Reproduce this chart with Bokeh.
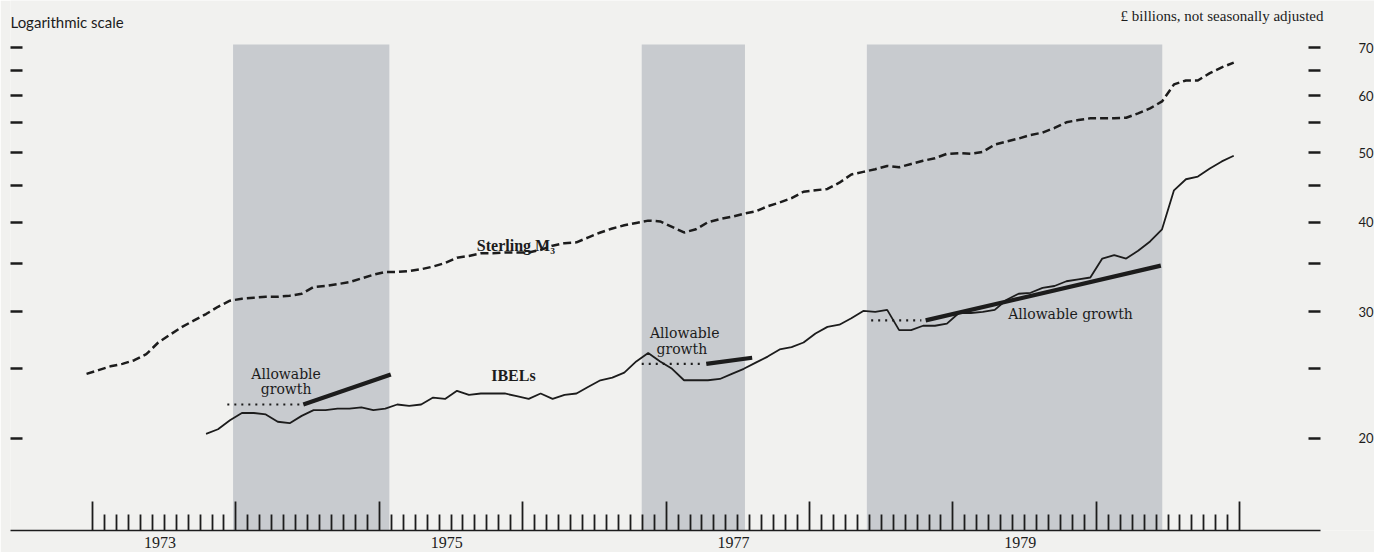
from bokeh.plotting import figure
from bokeh.models import (Range1d, FixedTicker, LogAxis, LinearAxis,
                          PrintfTickFormatter, CustomJSTickFormatter, ColumnDataSource)
from bokeh.core.properties import value
from bokeh.embed import file_html
from bokeh.resources import INLINE

# ---------------- data ----------------
# Sterling M3, £ billions, monthly (mid-month) from Dec 1972 to Dec 1980
m3_first_month = (1972, 12)
m3_values = [
    24.6, 24.9, 25.2, 25.4, 25.7, 26.2, 27.2, 27.9, 28.6, 29.2, 29.8, 30.5, 31.1,
    31.3, 31.4, 31.5, 31.5, 31.6, 31.8, 32.5, 32.6, 32.8, 33.0, 33.4, 33.8,
    34.1, 34.1, 34.2, 34.4, 34.7, 35.1, 35.7, 35.9, 36.2, 36.2, 36.3, 36.3,
    36.3, 36.6, 37.1, 37.4, 37.5, 38.1, 38.7, 39.2, 39.6, 39.9, 40.2, 40.1,
    39.4, 38.7, 39.1, 40.0, 40.4, 40.7, 41.1, 41.4, 42.1, 42.6, 43.2, 44.1,
    44.3, 44.5, 45.4, 46.6, 47.0, 47.4, 47.9, 47.7, 48.2, 48.7, 49.1, 49.8,
    49.9, 49.8, 50.1, 51.3, 51.8, 52.3, 52.9, 53.3, 54.1, 55.1, 55.5, 55.8,
    55.8, 55.8, 55.9, 56.7, 57.6, 58.9, 62.2, 63.0, 63.0, 64.5, 65.7, 66.7,
]
# IBELs, £ billions, monthly from Oct 1973 to Dec 1980
ibels_first_month = (1973, 10)
ibels_values = [
    20.3, 20.6, 21.2,
    21.7, 21.7, 21.6, 21.1, 21.0, 21.5, 21.9, 21.9, 22.0, 22.0, 22.1, 21.9,
    22.0, 22.3, 22.2, 22.3, 22.8, 22.7, 23.3, 23.0, 23.1, 23.1, 23.1, 22.9,
    22.7, 23.1, 22.7, 23.0, 23.1, 23.6, 24.1, 24.3, 24.7, 25.6, 26.3, 25.6,
    25.0, 24.1, 24.1, 24.1, 24.2, 24.6, 25.0, 25.5, 26.0, 26.6, 26.8, 27.2,
    28.0, 28.6, 28.8, 29.4, 30.1, 30.0, 30.2, 28.3, 28.3, 28.7, 28.7, 28.9,
    29.9, 29.9, 30.0, 30.2, 31.2, 31.8, 31.9, 32.4, 32.6, 33.1, 33.3, 33.5,
    35.6, 36.0, 35.6, 36.5, 37.6, 39.1, 44.3, 45.9, 46.3, 47.5, 48.6, 49.5,
]

# corset periods (shaded), decimal years; shading runs up to the top of the scale
band_start = [1973.98, 1976.83, 1978.40]
band_end = [1975.07, 1977.55, 1980.46]
band_top = 70.7

# base level (dotted) and allowable growth path (thick)
base_start = [1973.94, 1976.83, 1978.43]
base_end = [1974.46, 1977.24, 1978.78]
base_level = [22.3, 25.4, 29.2]
allow_start = [1974.47, 1977.28, 1978.81]
allow_end = [1975.08, 1977.60, 1980.45]
allow_end_level = [24.55, 25.9, 34.8]

# axis ticks
year_ticks = list(range(1973, 1982))
month_ticks = [y + mo / 12 for y in range(1973, 1981) for mo in range(1, 12)]
year_labels = ["1973", "1975", "1977", "1979"]
y_major = [20, 30, 40, 50, 60, 70]
y_minor = [25, 35, 45, 55, 65]

# texts
series_label_text = ["Sterling M\u2083", "IBELs"]
series_label_x = [1975.68, 1975.78]
series_label_y = [37.1, 24.5]
allow_label_text = ["Allowable", "growth", "Allowable", "growth", "Allowable growth"]
allow_label_x = [1974.35, 1974.35, 1977.13, 1977.11, 1979.82]
allow_label_y = [24.6, 23.4, 28.0, 26.6, 29.8]
header_left = "Logarithmic scale"
header_right = "\u00a3 billions, not seasonally adjusted"


def month_mid(first, n):
    y, m = first
    return [y + (m - 1 + i + 0.5) / 12 for i in range(n)]


INK = "#1c1c1c"
PAPER = "#f1f1ef"
SHADE = "#c8cbcf"
SERIF = "Liberation Serif"
SANS = "Lato"

X0 = 1972.428      # left end of the time axis
XR = 1981.563      # right end of the time axis (scale on the right sits here)
X1 = 1981.94       # plotting area continues to the page edge for the scale labels
Y0, Y1 = 14.89, 81.4

p = figure(width=1374, height=552, output_backend="svg", toolbar_location=None,
           y_axis_type="log", y_axis_location="right",
           x_range=Range1d(X0, X1), y_range=Range1d(Y0, Y1),
           min_border_left=10, min_border_right=0, min_border_top=0, min_border_bottom=22)
p.background_fill_color = PAPER
p.border_fill_color = PAPER
p.outline_line_color = None
p.xgrid.visible = False
p.ygrid.visible = False

# shaded periods
p.quad(left=band_start, right=band_end, bottom=Y0, top=band_top,
       fill_color=SHADE, line_color=None, level="underlay")

# series
m3_src = ColumnDataSource(dict(x=month_mid(m3_first_month, len(m3_values)), y=m3_values))
ib_src = ColumnDataSource(dict(x=month_mid(ibels_first_month, len(ibels_values)), y=ibels_values))
p.line("x", "y", source=m3_src, line_color=INK, line_width=2.5, line_dash="8 4")
p.line("x", "y", source=ib_src, line_color=INK, line_width=1.8)

# base levels (dotted) and allowable growth (thick)
p.segment(x0=base_start, y0=base_level, x1=base_end, y1=base_level,
          line_color=INK, line_width=2.2, line_dash="2 5")
p.segment(x0=allow_start, y0=base_level, x1=allow_end, y1=allow_end_level,
          line_color=INK, line_width=4.2)

# labels
p.text(x=series_label_x, y=series_label_y, text=series_label_text,
       text_font=value(SERIF), text_font_style="bold", text_font_size="16px",
       text_color=INK, text_align="left", text_baseline="middle")
p.text(x=allow_label_x, y=allow_label_y, text=allow_label_text,
       text_font=value("DejaVu Serif"), text_font_size="14px",
       text_color=INK, text_align="center", text_baseline="middle")

# header texts
p.text(x=[X0], y=[76.1], text=[header_left], text_font=value(SANS),
       text_font_size="15px", text_color=INK, text_align="left", text_baseline="middle")
p.text(x=[1981.584], y=[77.4], text=[header_right], text_font=value(SERIF),
       text_font_size="15px", text_color=INK, text_align="right", text_baseline="middle")

blank = CustomJSTickFormatter(code="return ''")

# right scale (labelled), drawn at the right end of the time axis
ry = p.yaxis[0]
ry.fixed_location = XR
ry.ticker = FixedTicker(ticks=y_major, minor_ticks=y_minor)
ry.formatter = PrintfTickFormatter(format="%d")
ry.axis_line_color = None
ry.major_tick_in = 12
ry.major_tick_out = 0
ry.minor_tick_in = 12
ry.minor_tick_out = 0
ry.major_tick_line_width = 2.4
ry.minor_tick_line_width = 2.4
ry.major_tick_line_color = INK
ry.minor_tick_line_color = INK
ry.major_label_standoff = 38
ry.major_label_text_font = SANS
ry.major_label_text_font_size = "13px"
ry.major_label_text_color = INK

# left scale (ticks only)
ly = LogAxis(ticker=FixedTicker(ticks=y_major, minor_ticks=y_minor), formatter=blank)
ly.axis_line_color = None
ly.major_tick_in = 12
ly.major_tick_out = 0
ly.minor_tick_in = 12
ly.minor_tick_out = 0
ly.major_tick_line_width = 2.4
ly.minor_tick_line_width = 2.4
ly.major_tick_line_color = INK
ly.minor_tick_line_color = INK
ly.major_label_text_font_size = "1px"
ly.major_label_standoff = 0
p.add_layout(ly, "left")

# bottom axis: year and month ticks
bx = p.xaxis[0]
bx.bounds = (X0, XR)
bx.ticker = FixedTicker(ticks=year_ticks, minor_ticks=month_ticks)
bx.formatter = blank
bx.axis_line_color = INK
bx.axis_line_width = 1.5
bx.major_tick_in = 29
bx.major_tick_out = 0
bx.minor_tick_in = 16
bx.minor_tick_out = 0
bx.major_tick_line_width = 1.8
bx.minor_tick_line_width = 1.8
bx.major_tick_line_color = INK
bx.minor_tick_line_color = INK
bx.major_label_text_font_size = "1px"
bx.major_label_standoff = 0

# bottom axis: year labels at mid-year
label_pos = [int(t) + 0.47 for t in year_labels]
lx = LinearAxis(ticker=FixedTicker(ticks=label_pos),
                major_label_overrides={pos: t for pos, t in zip(label_pos, year_labels)})
lx.axis_line_color = None
lx.major_tick_in = 0
lx.major_tick_out = 0
lx.minor_tick_in = 0
lx.minor_tick_out = 0
lx.major_label_standoff = 6
lx.major_label_text_font = SERIF
lx.major_label_text_font_size = "16px"
lx.major_label_text_color = INK
p.add_layout(lx, "below")

open("out.html", "w").write(file_html(p, INLINE))
